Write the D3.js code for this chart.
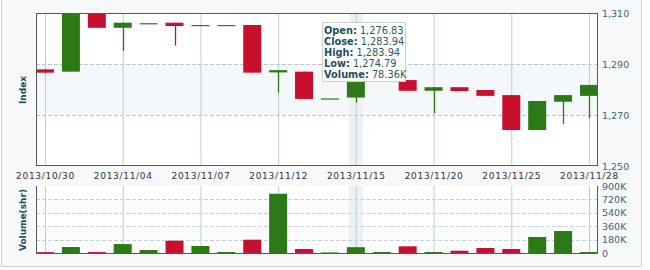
<!DOCTYPE html>
<html><head><meta charset="utf-8">
<script src="https://cdn.jsdelivr.net/npm/d3@7/dist/d3.min.js"></script>
<style>body{margin:0;background:#fff}svg{display:block}text{font-family:"DejaVu Sans",Verdana,sans-serif}</style>
</head><body><svg id="c" width="650" height="270"></svg>
<script>
const dates = ["2013/10/30","2013/10/31","2013/11/01","2013/11/04","2013/11/05","2013/11/06","2013/11/07","2013/11/08","2013/11/11","2013/11/12","2013/11/13","2013/11/14","2013/11/15","2013/11/18","2013/11/19","2013/11/20","2013/11/21","2013/11/22","2013/11/25","2013/11/26","2013/11/27","2013/11/28"];
const openV  = [1287.9,1287.0,1312.0,1304.2,1305.8,1306.2,1305.3,1305.3,1305.3,1286.7,1287.0,1276.5,1276.83,1283.9,1283.7,1279.5,1280.9,1279.8,1277.8,1264.1,1275.2,1277.5];
const closeV = [1286.6,1312.0,1304.2,1306.2,1306.0,1304.9,1305.3,1305.3,1286.6,1287.6,1276.3,1276.5,1283.94,1284.0,1279.5,1280.9,1279.4,1277.5,1264.1,1275.5,1277.8,1281.8];
const highV  = [1287.9,1312.0,1312.0,1306.2,1306.0,1306.2,1305.3,1305.3,1305.3,1287.6,1287.0,1276.5,1283.94,1284.0,1283.7,1280.9,1280.9,1279.8,1277.8,1275.5,1277.8,1281.8];
const lowV   = [1286.6,1287.0,1304.2,1295.1,1305.8,1297.2,1305.3,1305.3,1286.6,1278.8,1276.3,1276.5,1274.79,1283.9,1279.5,1270.7,1279.4,1277.5,1264.1,1264.1,1266.5,1268.7];
const volumeK = [12,80,13,120,40,165,94,13,179,796,54,8,78.36,13,90,13,31,67,54,215,295,13];
const labelIdx = [0,3,6,9,12,15,18,21];
const priceTicks = [1250,1270,1290,1310];
const volTicks = [0,180,360,540,720,900];
const tip = [["Open:","1,276.83"],["Close:","1,283.94"],["High:","1,283.94"],["Low:","1,274.79"],["Volume:","78.36K"]];
const hoverIdx = 12;

const RED="#c8102e", GREEN="#2b7a17";
const svg = d3.select("#c");
const L=36, R=598, T=13, B=166, VT=186, VB=253;

// frame
svg.append("rect").attr("x",1.5).attr("y",-2).attr("width",640).attr("height",268.5)
  .attr("fill","#f6f8f9").attr("stroke","#c9d1d5");

const x = d3.scalePoint().domain(d3.range(dates.length)).range([45,589]);
const y = d3.scaleLinear().domain([1250,1310]).range([B,T]);
const yv = d3.scaleLinear().domain([0,900]).range([VB,VT]);
const bw = 18;

// plot backgrounds
svg.append("rect").attr("x",L).attr("y",T).attr("width",R-L).attr("height",B-T).attr("fill","#fff");
svg.append("rect").attr("x",L).attr("y",y(1290)).attr("width",R-L).attr("height",y(1270)-y(1290)).attr("fill","#f4f8fa");
svg.append("rect").attr("x",L).attr("y",VT).attr("width",R-L).attr("height",VB-VT).attr("fill","#fff");
[[720,540],[360,180]].forEach(b=>svg.append("rect").attr("x",L).attr("y",yv(b[0])).attr("width",R-L).attr("height",yv(b[1])-yv(b[0])).attr("fill","#f9fbfc"));

// hover band
[[T,B],[VT,VB]].forEach(r=>svg.append("rect").attr("x",x(hoverIdx)-7).attr("y",r[0]).attr("width",14).attr("height",r[1]-r[0]).attr("fill","#edf1f3"));

// vertical grid
labelIdx.forEach(i=>{
  [[T,B],[VT,VB]].forEach(r=>svg.append("line").attr("x1",x(i)+0.5).attr("x2",x(i)+0.5).attr("y1",r[0]).attr("y2",r[1]).attr("stroke","#bccfd6").attr("stroke-width",1));
});
// horizontal dashed grid
[1270,1290].forEach(v=>svg.append("line").attr("x1",L).attr("x2",R).attr("y1",Math.round(y(v))+0.5).attr("y2",Math.round(y(v))+0.5).attr("stroke","#b7c8cf").attr("stroke-dasharray","4,2"));
[180,360,540,720].forEach(v=>svg.append("line").attr("x1",L).attr("x2",R).attr("y1",Math.round(yv(v))+0.5).attr("y2",Math.round(yv(v))+0.5).attr("stroke","#c4d2d8").attr("stroke-dasharray","4,2"));

// clip
const defs=svg.append("defs");
defs.append("clipPath").attr("id","pc").append("rect").attr("x",L).attr("y",T).attr("width",R-L).attr("height",B-T);
const g = svg.append("g").attr("clip-path","url(#pc)");
const idx = d3.range(dates.length);
const col = i => closeV[i]>=openV[i]?GREEN:RED;

g.selectAll(".wick").data(idx).join("line")
  .attr("x1",i=>Math.round(x(i))+0.5).attr("x2",i=>Math.round(x(i))+0.5)
  .attr("y1",i=>y(highV[i])).attr("y2",i=>y(lowV[i]))
  .attr("stroke",col).attr("stroke-width",1.3);
g.selectAll(".body").data(idx).join("rect")
  .attr("x",i=>x(i)-bw/2).attr("width",bw)
  .attr("y",i=>y(Math.max(openV[i],closeV[i])))
  .attr("height",i=>Math.max(1.2,Math.abs(y(openV[i])-y(closeV[i]))))
  .attr("fill",col);

// volume bars
svg.selectAll(".vb").data(idx).join("rect")
  .attr("x",i=>x(i)-bw/2).attr("width",bw)
  .attr("y",i=>yv(volumeK[i])).attr("height",i=>Math.max(1,VB-yv(volumeK[i])))
  .attr("fill",col);

// borders
svg.append("rect").attr("x",L+0.5).attr("y",T+0.5).attr("width",R-L-1).attr("height",B-T-1).attr("fill","none").attr("stroke","#4f5b60");
svg.append("path").attr("d",`M${L+0.5},${VT}V${VB+0.5}H${R-0.5}V${VT}`).attr("fill","none").attr("stroke","#4f5b60");

// axes (right)
const ay = d3.axisRight(y).tickValues(priceTicks).tickSize(0).tickPadding(4).tickFormat(d3.format(","));
const gy = svg.append("g").attr("transform",`translate(${R},0)`).call(ay);
const av = d3.axisRight(yv).tickValues(volTicks).tickSize(0).tickPadding(4).tickFormat(d=>d===0?"0":d+"K");
const gv = svg.append("g").attr("transform",`translate(${R},0)`).call(av);
[gy,gv].forEach(a=>{a.select(".domain").remove();a.selectAll("text").attr("font-size",9.5).attr("fill","#3b6676").attr("font-family","DejaVu Sans");});

const ax = d3.axisBottom(x).tickValues(labelIdx).tickSize(0).tickPadding(5).tickFormat(i=>dates[i]);
const gx = svg.append("g").attr("transform",`translate(0,${B+2})`).call(ax);
gx.select(".domain").remove();
gx.selectAll("text").attr("font-size",9).attr("fill","#333").attr("letter-spacing","0.7px").attr("font-family","DejaVu Sans");

// axis titles
svg.append("text").attr("transform",`translate(26,90) rotate(-90)`).attr("text-anchor","middle")
  .attr("font-size",9).attr("font-weight","bold").attr("fill","#1f4f5e").text("Index");
svg.append("text").attr("transform",`translate(26,220) rotate(-90)`).attr("text-anchor","middle")
  .attr("font-size",9).attr("font-weight","bold").attr("fill","#1f4f5e").text("Volume(shr)");

// tooltip
const tg = svg.append("g").attr("transform","translate(322,22)");
tg.append("rect").attr("x",0.5).attr("y",0.5).attr("width",83).attr("height",59).attr("fill","#fff").attr("stroke","#c9d1d5");
tip.forEach((t,k)=>{
  const tx = tg.append("text").attr("x",2).attr("y",12+k*11).attr("font-size",9.8).attr("fill","#1f4f5e");
  tx.append("tspan").attr("font-weight","bold").text(t[0]);
  tx.append("tspan").attr("dx",3).attr("fill","#2c5866").text(t[1]);
});
</script></body></html>
